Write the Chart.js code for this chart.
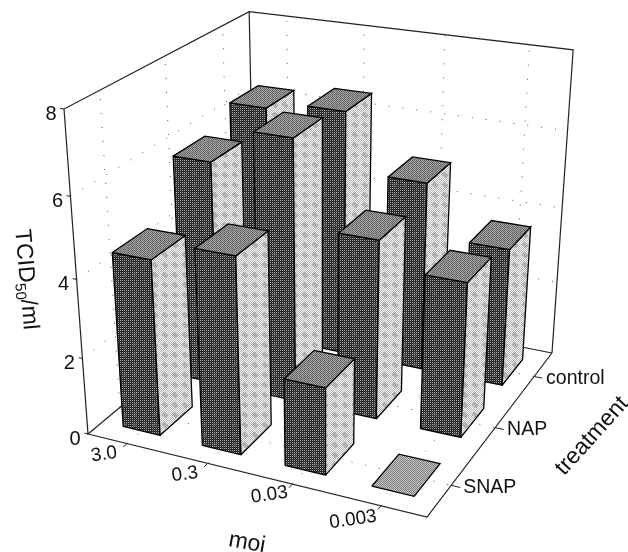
<!DOCTYPE html>
<html lang="en">
<head>
  <meta charset="UTF-8">
  <title>TCID50 by moi and treatment</title>
  <script src="https://cdn.jsdelivr.net/npm/chart.js"></script>
  <style>
    body { margin: 0; padding: 0; background: #fff; }
    canvas { display: block; }
  </style>
</head>
<body>
  <canvas id="barChart" width="628" height="552"></canvas>
  <script>
    // values
    const moiLabels = ['3.0', '0.3', '0.03', '0.003'];
    const treatmentLabels = ['SNAP', 'NAP', 'control'];
    const zTicks = [0, 2, 4, 6, 8];
    const snapValues = [4.5, 4.98, 2.22, 0];
    const napValues = [5.85, 6.75, 4.62, 3.97];
    const controlValues = [6.3, 6.5, 5, 3.65];

    const zMax = 8;
    const barDepthU = 0.118;
    const barDepthV = 0.18;

    // camera: floor corners of the box and vanishing point of the vertical edges
    const floorA = [88, 434], floorB = [427, 517], floorC = [552, 353], floorD = [255, 295];
    const vanish = [323.6, 3626];
    const zScale = -0.0924;
    const cam = floorMatrix(floorA, floorB, floorC, floorD);

    function floorMatrix(p0, p1, p2, p3) {
      const dx1 = p1[0] - p2[0], dx2 = p3[0] - p2[0], sx = p0[0] - p1[0] + p2[0] - p3[0];
      const dy1 = p1[1] - p2[1], dy2 = p3[1] - p2[1], sy = p0[1] - p1[1] + p2[1] - p3[1];
      const den = dx1 * dy2 - dx2 * dy1;
      const g = (sx * dy2 - dx2 * sy) / den;
      const h = (dx1 * sy - sx * dy1) / den;
      return {
        a: p1[0] - p0[0] + g * p1[0], b: p3[0] - p0[0] + h * p3[0], c: p0[0],
        d: p1[1] - p0[1] + g * p1[1], e: p3[1] - p0[1] + h * p3[1], f: p0[1],
        g: g, h: h
      };
    }

    // u along moi, v along treatment (both 0..1), z in TCID units
    function project(u, v, z) {
      const t = z / zMax * zScale;
      const w = cam.g * u + cam.h * v + 1 + t;
      return {
        x: (cam.a * u + cam.b * v + cam.c + t * vanish[0]) / w,
        y: (cam.d * u + cam.e * v + cam.f + t * vanish[1]) / w
      };
    }

    const uOf = i => (i + 0.5) / moiLabels.length;
    const vOf = j => (j + 0.5) / treatmentLabels.length;

    // printed halftone look
    function makePattern(size, pixel) {
      const c = document.createElement('canvas');
      c.width = size;
      c.height = size;
      const g = c.getContext('2d');
      for (let y = 0; y < size; y++) {
        for (let x = 0; x < size; x++) {
          g.fillStyle = pixel(x, y);
          g.fillRect(x, y, 1, 1);
        }
      }
      return g.createPattern(c, 'repeat');
    }
    const ctx = document.getElementById('barChart').getContext('2d');
    const darkFace = makePattern(10, (x, y) => {
      const blotch = Math.hypot(x - 4.5, y - 4.5) < 2.5;
      if (x % 2 === 0 && y % 2 === 0) return blotch ? '#808080' : '#b0b0b0';
      if (blotch) return '#4a4a4a';
      return (x + y) % 2 === 0 ? '#383838' : '#1c1c1c';
    });
    const lightFace = makePattern(10, (x, y) => {
      const blotch = Math.hypot(x - 4.5, y - 4.5) < 2.6;
      if (blotch) return '#b2b2b2';
      return (x + y) % 2 === 0 ? '#fff' : '#b0b0b0';
    });
    const topFace = makePattern(4, (x, y) => {
      if ((x + y) % 2 === 0) return x % 4 === 0 ? '#555' : '#6a6a6a';
      return '#a4a4a4';
    });
    const flatFace = makePattern(4, (x, y) => ((x + y) % 2 === 0 ? '#808080' : '#c4c4c4'));

    const datasets = [];

    function addLine(points, color, width, dash) {
      datasets.push({
        data: points, showLine: true, fill: false, pointRadius: 0,
        borderColor: color, borderWidth: width, borderDash: dash || [], clip: false
      });
    }

    function addFace(points, pattern) {
      datasets.push({
        data: points.concat([points[0]]), showLine: true, fill: 'shape', pointRadius: 0,
        backgroundColor: pattern, borderColor: '#000', borderWidth: 1.3,
        borderJoinStyle: 'miter', clip: false
      });
    }

    // dotted grid on floor and back walls
    const gridDash = [1, 13];
    moiLabels.forEach((_, i) => {
      addLine([project(uOf(i), 0, 0), project(uOf(i), 1, 0)], '#555', 1, gridDash);
      addLine([project(uOf(i), 1, 0), project(uOf(i), 1, zMax)], '#555', 1, gridDash);
    });
    treatmentLabels.forEach((_, j) => {
      addLine([project(0, vOf(j), 0), project(1, vOf(j), 0)], '#555', 1, gridDash);
      addLine([project(0, vOf(j), 0), project(0, vOf(j), zMax)], '#555', 1, gridDash);
    });
    zTicks.slice(1, -1).forEach(z => {
      addLine([project(0, 0, z), project(0, 1, z), project(1, 1, z)], '#555', 1, gridDash);
    });

    // box edges
    addLine([project(0, 0, 0), project(0, 0, zMax), project(0, 1, zMax), project(1, 1, zMax), project(1, 1, 0)], '#222', 1.2);
    addLine([project(0, 1, zMax), project(0, 1, 0)], '#222', 1.2);
    addLine([project(1, 1, 0), project(1, 0, 0), project(0, 0, 0), project(0, 1, 0), project(1, 1, 0)], '#222', 1.2);

    // axis ticks
    zTicks.forEach(z => addLine([project(0, 0, z), project(-0.012, 0, z)], '#222', 1));
    moiLabels.forEach((_, i) => addLine([project(uOf(i), 0, 0), project(uOf(i), -0.02, 0)], '#222', 1));
    treatmentLabels.forEach((_, j) => addLine([project(1, vOf(j), 0), project(1.025, vOf(j), 0)], '#222', 1));

    // bars, back row first
    const rows = [snapValues, napValues, controlValues];
    for (let j = rows.length - 1; j >= 0; j--) {
      rows[j].forEach((value, i) => {
        const u0 = uOf(i) - barDepthU / 2, u1 = uOf(i) + barDepthU / 2;
        const v0 = vOf(j) - barDepthV / 2, v1 = vOf(j) + barDepthV / 2;
        const top = [project(u0, v0, value), project(u1, v0, value), project(u1, v1, value), project(u0, v1, value)];
        if (value > 0) {
          addFace([project(u0, v0, 0), project(u1, v0, 0), project(u1, v0, value), project(u0, v0, value)], darkFace);
          addFace([project(u1, v0, 0), project(u1, v1, 0), project(u1, v1, value), project(u1, v0, value)], lightFace);
        }
        addFace(top, value > 0 ? topFace : flatFace);
      });
    }

    // later datasets have to paint over earlier ones
    datasets.forEach((d, i) => { d.order = datasets.length - i; });

    function drawText(c, text, x, y, angle, size, align) {
      c.save();
      c.translate(x, y);
      c.rotate(angle * Math.PI / 180);
      c.font = size + 'px "Liberation Sans", Arial, sans-serif';
      c.fillStyle = '#111';
      c.textAlign = align || 'center';
      c.textBaseline = 'middle';
      c.fillText(text, 0, 0);
      c.restore();
    }

    const axisText = {
      id: 'axisText',
      afterDraw(chart) {
        const c = chart.ctx;
        const sx = chart.scales.x, sy = chart.scales.y;
        const at = (p, dx, dy) => [sx.getPixelForValue(p.x) + dx, sy.getPixelForValue(p.y) + dy];

        zTicks.forEach(z => {
          const p = at(project(0, 0, z), -13, 5);
          drawText(c, String(z), p[0], p[1], 0, 20);
        });
        moiLabels.forEach((label, i) => {
          const p = at(project(uOf(i), 0, 0), i === 3 ? -28 : -23, i === 3 ? 14 : 11);
          drawText(c, label, p[0], p[1], -8, 19);
        });
        treatmentLabels.forEach((label, j) => {
          const p = at(project(1, vOf(j), 0), 12, 2);
          drawText(c, label, p[0], p[1], 0, 19.5, 'left');
        });

        drawText(c, 'moi', 247, 543, 10, 23);
        drawText(c, 'treatment', 592, 436, -48, 23);

        // rotated title with subscript
        c.save();
        c.translate(26, 280);
        c.rotate(85 * Math.PI / 180);
        c.fillStyle = '#111';
        c.textBaseline = 'middle';
        c.textAlign = 'left';
        c.font = '23px "Liberation Sans", Arial, sans-serif';
        c.fillText('TCID', -51, 0);
        const w1 = c.measureText('TCID').width;
        c.font = '15px "Liberation Sans", Arial, sans-serif';
        c.fillText('50', -51 + w1, 7);
        const w2 = c.measureText('50').width;
        c.font = '23px "Liberation Sans", Arial, sans-serif';
        c.fillText('/ml', -51 + w1 + w2, 0);
        c.restore();
      }
    };

    new Chart(ctx, {
      type: 'scatter',
      data: { datasets: datasets },
      plugins: [axisText],
      options: {
        responsive: false,
        animation: false,
        layout: { padding: 0 },
        plugins: { legend: { display: false }, tooltip: { enabled: false } },
        scales: {
          x: { type: 'linear', min: 0, max: 628, display: false },
          y: { type: 'linear', min: 0, max: 552, reverse: true, display: false }
        }
      }
    });
  </script>
</body>
</html>
